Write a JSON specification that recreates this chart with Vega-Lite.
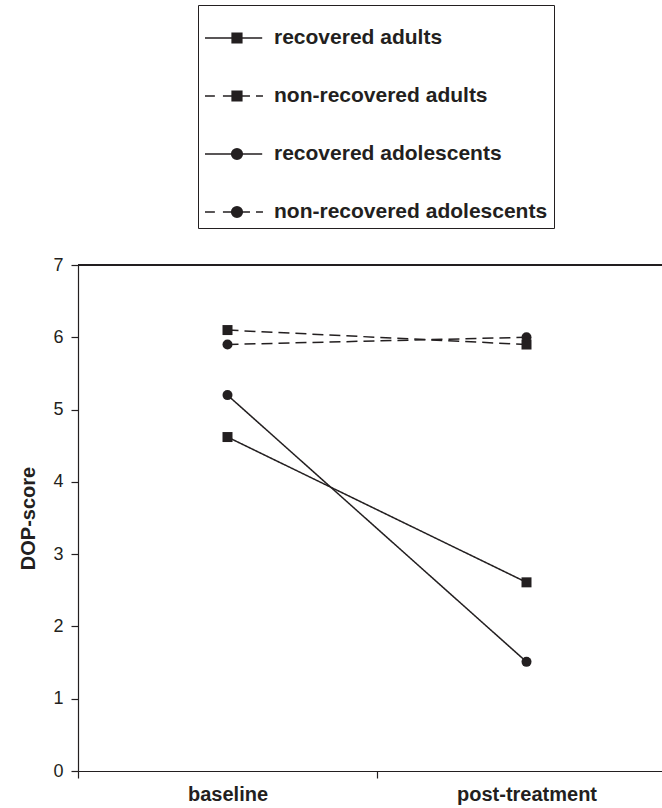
{
  "$schema": "https://vega.github.io/schema/vega-lite/v6.json",
  "autosize": {"type": "none"},
  "padding": {"left": 78, "top": 265, "right": 0, "bottom": 37},
  "width": 584,
  "height": 506,
  "background": "white",
  "view": {"stroke": null},
  "config": {
    "font": "Liberation Sans",
    "axis": {
      "domainColor": "#231f20",
      "tickColor": "#231f20",
      "labelColor": "#231f20",
      "titleColor": "#231f20",
      "grid": false,
      "domainWidth": 1.2,
      "tickWidth": 1.2,
      "tickSize": 7
    }
  },
  "data": {
    "values": [
      {"group": "recovered adults", "time": "baseline", "score": 4.62},
      {"group": "recovered adults", "time": "post-treatment", "score": 2.61},
      {"group": "non-recovered adults", "time": "baseline", "score": 6.1},
      {"group": "non-recovered adults", "time": "post-treatment", "score": 5.9},
      {"group": "recovered adolescents", "time": "baseline", "score": 5.2},
      {"group": "recovered adolescents", "time": "post-treatment", "score": 1.51},
      {"group": "non-recovered adolescents", "time": "baseline", "score": 5.9},
      {"group": "non-recovered adolescents", "time": "post-treatment", "score": 6.0}
    ]
  },
  "encoding": {
    "x": {
      "field": "time",
      "type": "nominal",
      "sort": ["baseline", "post-treatment"],
      "scale": {"range": [0, 598], "paddingInner": 0, "paddingOuter": 0},
      "axis": {
        "title": null,
        "labelAngle": 0,
        "tickBand": "extent",
        "labelFontSize": 20,
        "labelFontWeight": "bold",
        "labelPadding": 6
      }
    },
    "y": {
      "field": "score",
      "type": "quantitative",
      "scale": {"domain": [0, 7], "nice": false, "zero": true},
      "axis": {
        "title": "DOP-score",
        "values": [0, 1, 2, 3, 4, 5, 6, 7],
        "labelFontSize": 18,
        "labelPadding": 8,
        "titleFontSize": 20,
        "titleFontWeight": "bold",
        "titlePadding": 14
      }
    }
  },
  "layer": [
    {
      "mark": {"type": "rule", "color": "#231f20", "strokeWidth": 1.2},
      "encoding": {
        "x": null,
        "y": {"datum": 7}
      }
    },
    {
      "mark": {"type": "line", "color": "#231f20", "strokeWidth": 1.5},
      "encoding": {
        "detail": {"field": "group"},
        "strokeDash": {
          "field": "group",
          "type": "nominal",
          "scale": {
            "domain": ["recovered adults", "non-recovered adults", "recovered adolescents", "non-recovered adolescents"],
            "range": [[1, 0], [11, 6], [1, 0], [11, 6]]
          },
          "legend": null
        }
      }
    },
    {
      "mark": {"type": "point", "filled": true, "color": "#231f20", "opacity": 1, "size": 100},
      "encoding": {
        "shape": {
          "field": "group",
          "type": "nominal",
          "scale": {
            "domain": ["recovered adults", "non-recovered adults", "recovered adolescents", "non-recovered adolescents"],
            "range": ["square", "square", "circle", "circle"]
          },
          "legend": null
        }
      }
    },
    {
      "mark": {"type": "point", "filled": false, "color": "#231f20", "strokeWidth": 1.3, "opacity": 0},
      "encoding": {
        "shape": {
          "field": "group",
          "type": "nominal",
          "scale": {
            "domain": ["recovered adults", "non-recovered adults", "recovered adolescents", "non-recovered adolescents"],
            "range": [
              "M-1,0H1.2M0.04,-0.19H0.42V0.19H0.04ZM0.04,-0.15H0.42M0.04,-0.105H0.42M0.04,-0.06H0.42M0.04,-0.015H0.42M0.04,0.03H0.42M0.04,0.075H0.42M0.04,0.12H0.42M0.04,0.165H0.42",
              "M-1,0H-0.62M-0.31,0H0.73M0.96,0H1.23M0.04,-0.19H0.42V0.19H0.04ZM0.04,-0.15H0.42M0.04,-0.105H0.42M0.04,-0.06H0.42M0.04,-0.015H0.42M0.04,0.03H0.42M0.04,0.075H0.42M0.04,0.12H0.42M0.04,0.165H0.42",
              "M-1,0H1.2M0.02,0A0.21,0.21,0,1,0,0.44,0A0.21,0.21,0,1,0,0.02,0ZM0.025,-0.045H0.435M0.025,0.045H0.435M0.04,-0.09H0.42M0.04,0.09H0.42M0.069,-0.135H0.391M0.069,0.135H0.391M0.122,-0.18H0.338M0.122,0.18H0.338",
              "M-1,0H-0.62M-0.31,0H0.73M0.96,0H1.23M0.02,0A0.21,0.21,0,1,0,0.44,0A0.21,0.21,0,1,0,0.02,0ZM0.025,-0.045H0.435M0.025,0.045H0.435M0.04,-0.09H0.42M0.04,0.09H0.42M0.069,-0.135H0.391M0.069,0.135H0.391M0.122,-0.18H0.338M0.122,0.18H0.338"
            ]
          },
          "legend": {
            "title": null,
            "orient": "none",
            "legendX": 120,
            "legendY": -260,
            "direction": "vertical",
            "padding": 6,
            "strokeColor": "#231f20",
            "fillColor": "white",
            "symbolSize": 2704,
            "symbolStrokeWidth": 1.3,
            "symbolStrokeColor": "#231f20",
            "symbolOpacity": 1,
            "rowPadding": 21,
            "labelOffset": 16,
            "labelFontSize": 21,
            "labelFontWeight": "bold",
            "labelColor": "#231f20",
            "labelLimit": 500
          }
        }
      }
    }
  ],
  "resolve": {"scale": {"shape": "independent", "strokeDash": "independent"}, "legend": {"shape": "independent"}}
}
